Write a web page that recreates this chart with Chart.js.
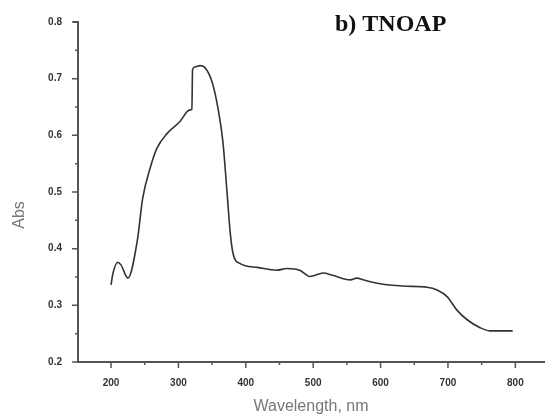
<!DOCTYPE html>
<html>
<head>
<meta charset="utf-8">
<script src="https://cdn.jsdelivr.net/npm/chart.js@4"></script>
<style>
  body { margin: 0; background: #fff; }
  #chart { display: block; }
</style>
</head>
<body>
<canvas id="chart" width="545" height="417"></canvas>
<script>
// spectrum
const wavelength = [200, 203, 210, 215, 225, 239, 247, 258, 268, 283, 302, 317, 320, 321, 325, 332, 339, 350, 359, 366, 372, 377, 381, 391, 417, 446, 461, 480, 495, 515, 529, 555, 565, 574, 595, 633, 669, 684, 699, 713, 728, 747, 762, 796];
const absorbance = [0.336, 0.357, 0.376, 0.371, 0.348, 0.414, 0.489, 0.542, 0.577, 0.603, 0.624, 0.645, 0.646, 0.716, 0.721, 0.723, 0.720, 0.694, 0.646, 0.589, 0.502, 0.427, 0.392, 0.374, 0.367, 0.362, 0.365, 0.362, 0.351, 0.357, 0.353, 0.345, 0.348, 0.345, 0.339, 0.334, 0.332, 0.327, 0.315, 0.292, 0.275, 0.261, 0.255, 0.255];

const xTicks = [200, 300, 400, 500, 600, 700, 800];
const xMinor = [250, 350, 450, 550, 650, 750];
const yTicks = [0.2, 0.3, 0.4, 0.5, 0.6, 0.7, 0.8];
const yMinor = [0.25, 0.35, 0.45, 0.55, 0.65, 0.75];

const axisColor = "#555";

// axis lines, tick marks and the texts
const decor = {
  id: "decor",
  afterDraw(chart) {
    const ctx = chart.ctx;
    const x = chart.scales.x, y = chart.scales.y;
    const area = chart.chartArea;
    ctx.save();
    ctx.strokeStyle = axisColor;
    ctx.lineWidth = 2;
    ctx.beginPath();
    ctx.moveTo(area.left - 5, area.top);
    ctx.lineTo(area.left, area.top);
    ctx.lineTo(area.left, area.bottom);
    ctx.lineTo(area.right, area.bottom);
    ctx.stroke();

    ctx.lineWidth = 1.5;
    ctx.beginPath();
    xTicks.forEach(v => {
      const px = x.getPixelForValue(v);
      ctx.moveTo(px, area.bottom); ctx.lineTo(px, area.bottom + 6);
    });
    xMinor.forEach(v => {
      const px = x.getPixelForValue(v);
      ctx.moveTo(px, area.bottom); ctx.lineTo(px, area.bottom + 3);
    });
    yTicks.forEach(v => {
      const py = y.getPixelForValue(v);
      ctx.moveTo(area.left, py); ctx.lineTo(area.left - 6, py);
    });
    yMinor.forEach(v => {
      const py = y.getPixelForValue(v);
      ctx.moveTo(area.left, py); ctx.lineTo(area.left - 3, py);
    });
    ctx.stroke();

    ctx.fillStyle = "#777";
    ctx.font = "16px 'Liberation Sans', Arial, sans-serif";
    ctx.textAlign = "center";
    ctx.textBaseline = "middle";
    ctx.fillText("Wavelength, nm", 311, 407);
    ctx.save();
    ctx.translate(20, 215);
    ctx.rotate(-Math.PI / 2);
    ctx.fillText("Abs", 0, 0);
    ctx.restore();

    ctx.fillStyle = "#111";
    ctx.font = "bold 24px 'Liberation Serif', 'Times New Roman', serif";
    ctx.textAlign = "left";
    ctx.fillText("b) TNOAP", 335, 25);
    ctx.restore();
  }
};

new Chart(document.getElementById("chart"), {
  type: "line",
  data: {
    datasets: [{
      data: wavelength.map((w, i) => ({ x: w, y: absorbance[i] })),
      borderColor: "#333",
      borderWidth: 1.6,
      pointRadius: 0,
      cubicInterpolationMode: "monotone",
      fill: false
    }]
  },
  options: {
    responsive: false,
    animation: false,
    layout: { padding: { top: 19, right: 0, left: 0, bottom: 0 } },
    plugins: { legend: { display: false }, tooltip: { enabled: false } },
    scales: {
      x: {
        type: "linear",
        min: 151,
        max: 844,
        afterBuildTicks: s => { s.ticks = xTicks.map(v => ({ value: v })); },
        afterFit: s => { s.height = 55; },
        border: { display: false },
        grid: { display: false, drawTicks: false },
        ticks: {
          padding: 15,
          maxRotation: 0,
          color: "#333",
          font: { size: 10, weight: "bold", family: "Arial, sans-serif" },
          callback: v => v
        }
      },
      y: {
        min: 0.2,
        max: 0.8,
        afterBuildTicks: s => { s.ticks = yTicks.map(v => ({ value: v })); },
        afterFit: s => { s.width = 78; },
        border: { display: false },
        grid: { display: false, drawTicks: false },
        ticks: {
          padding: 16,
          color: "#333",
          font: { size: 10, weight: "bold", family: "Arial, sans-serif" },
          callback: v => v.toFixed(1)
        }
      }
    }
  },
  plugins: [decor]
});
</script>
</body>
</html>
